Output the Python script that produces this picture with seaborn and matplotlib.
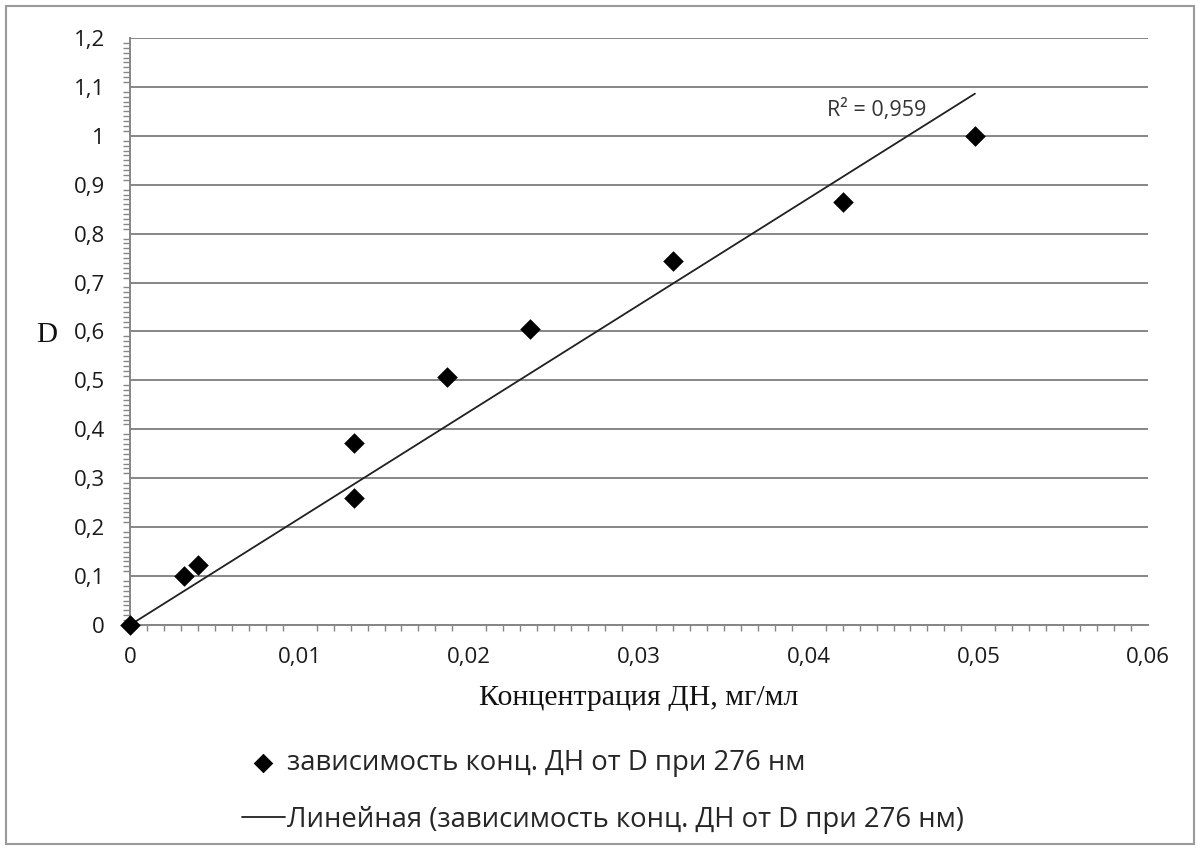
import numpy as np
import pandas as pd
import matplotlib
matplotlib.use("Agg")
import matplotlib.pyplot as plt
from matplotlib.ticker import MultipleLocator, FuncFormatter
from matplotlib.patches import Rectangle
import seaborn as sns

# ---- data ----
conc = [0.0, 0.0032, 0.0040, 0.0132, 0.0132, 0.0187, 0.0236, 0.0320, 0.0420, 0.0498]
dens = [0.0, 0.100, 0.123, 0.372, 0.260, 0.507, 0.605, 0.744, 0.865, 1.000]
series_label = "зависимость конц. ДН от D при 276 нм"
trend_label = "Линейная (зависимость конц. ДН от D при 276 нм)"
r2_text = "R² = 0,959"
x_label = "Концентрация ДН, мг/мл"
y_label = "D"

df = pd.DataFrame({"x": conc, "y": dens})
# linear trend through the origin
xa, ya = np.array(conc), np.array(dens)
slope = (xa * ya).sum() / (xa * xa).sum()
tx = np.array([0.0, xa.max()])
trend = pd.DataFrame({"x": tx, "y": slope * tx})

sns.set_style("white")
plt.rcParams["font.family"] = ["Open Sans", "DejaVu Sans"]

fig = plt.figure(figsize=(11.98, 8.48), dpi=100)
ax = fig.add_axes([130 / 1198, 1 - 625 / 848, (1148 - 130) / 1198, (625 - 38) / 848])

grid_c = "#868686"
ax.set_xlim(0, 0.06)
ax.set_ylim(0, 1.2)
ax.yaxis.set_major_locator(MultipleLocator(0.1))
ax.yaxis.set_minor_locator(MultipleLocator(0.01))
ax.xaxis.set_major_locator(MultipleLocator(0.01))
ax.xaxis.set_minor_locator(MultipleLocator(0.001))

def comma_fmt(v, pos):
    s = f"{v:.2f}".rstrip("0").rstrip(".")
    return s.replace(".", ",")

ax.xaxis.set_major_formatter(FuncFormatter(comma_fmt))
ax.yaxis.set_major_formatter(FuncFormatter(comma_fmt))

ax.grid(axis="y", which="major", color=grid_c, lw=1.4)
ax.grid(axis="x", visible=False)
ax.set_axisbelow(True)
for s in ["top", "right"]:
    ax.spines[s].set_visible(False)
for s in ["left", "bottom"]:
    ax.spines[s].set_color(grid_c)
    ax.spines[s].set_linewidth(1.4)

ax.tick_params(axis="both", which="major", direction="out", color=grid_c,
               width=1.2, labelsize=16, labelcolor="#1a1a1a")
ax.tick_params(axis="y", which="major", length=7, pad=11)
ax.tick_params(axis="y", which="minor", length=5, color=grid_c, width=1.0, left=True)
ax.tick_params(axis="x", which="major", length=6, pad=10)
ax.tick_params(axis="x", which="minor", length=4, color=grid_c, width=1.0, bottom=True)

sns.lineplot(data=trend, x="x", y="y", ax=ax, color="#202020", lw=1.3,
             label=trend_label, zorder=3)
sns.scatterplot(data=df, x="x", y="y", ax=ax, marker="D", s=110, color="black",
                edgecolor="black", linewidth=0, label=series_label, zorder=4,
                clip_on=False)

ax.set_xlabel(x_label, family="Liberation Serif", fontsize=21.5, color="#111111",
              labelpad=12)
ax.set_ylabel(y_label, family="Liberation Serif", fontsize=21, color="#111111",
              rotation=0, va="center", ha="center")
ax.yaxis.set_label_coords(-0.0815, 0.494)

ax.text(0.04107, 1.053, r2_text, fontsize=15.5, color="#333333", va="center")

handles, labels = ax.get_legend_handles_labels()
ax.get_legend().remove()
order = [labels.index(series_label), labels.index(trend_label)]
fig.legend([handles[i] for i in order], [labels[i] for i in order],
           loc="upper left", bbox_to_anchor=(242 / 1198, 1 - 749 / 848),
           frameon=False, fontsize=19.8, handlelength=1.55, handletextpad=0.08,
           labelspacing=1.05, borderpad=0, borderaxespad=0, markerscale=0.95)

fig.patches.append(Rectangle((6 / 1198, 4 / 848), 1188 / 1198, 838 / 848,
                             transform=fig.transFigure, fill=False,
                             edgecolor="#9a9a9a", lw=1.5))

fig.savefig("out.png", dpi=100)
